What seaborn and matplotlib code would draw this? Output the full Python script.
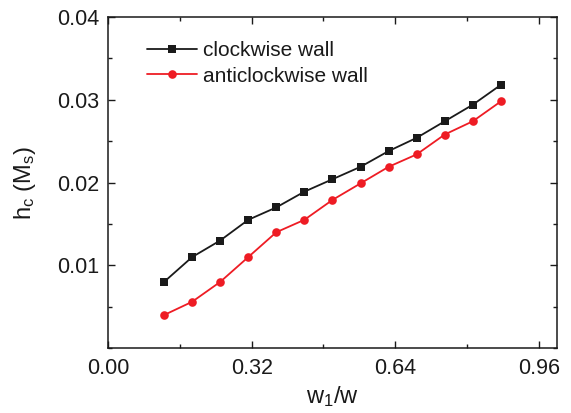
import matplotlib
matplotlib.use("Agg")
import matplotlib.pyplot as plt
import seaborn as sns
import pandas as pd
from matplotlib.ticker import MultipleLocator, FixedLocator

w_ratio = [0.125, 0.1875, 0.25, 0.3125, 0.375, 0.4375, 0.5, 0.5625, 0.625, 0.6875, 0.75, 0.8125, 0.875]
clockwise = [0.0080, 0.0110, 0.0130, 0.0155, 0.0170, 0.0189, 0.0204, 0.0219, 0.0238, 0.0254, 0.0274, 0.0294, 0.0318]
anticlockwise = [0.0040, 0.0056, 0.0080, 0.0110, 0.0140, 0.0155, 0.0179, 0.0199, 0.0219, 0.0234, 0.0258, 0.0274, 0.0298]
series_names = ["clockwise wall", "anticlockwise wall"]
x_ticks = [0.00, 0.32, 0.64, 0.96]
y_ticks = [0.01, 0.02, 0.03, 0.04]

df = pd.concat([
    pd.DataFrame({"x": w_ratio, "y": clockwise, "s": series_names[0]}),
    pd.DataFrame({"x": w_ratio, "y": anticlockwise, "s": series_names[1]}),
])

sns.set_style("ticks")
plt.rcParams["font.family"] = ["Liberation Sans", "DejaVu Sans"]
plt.rcParams["mathtext.default"] = "regular"

fig = plt.figure(figsize=(5.71, 4.13), dpi=100)
ax = fig.add_axes([0.189, 0.157, 0.7865, 0.802])

palette = {series_names[0]: "#1a1a1a", series_names[1]: "#ee1c24"}
markers = {series_names[0]: "s", series_names[1]: "o"}
sns.lineplot(data=df, x="x", y="y", hue="s", style="s", palette=palette,
             markers=markers, dashes=False, markersize=6.2, markeredgewidth=0,
             linewidth=1.3, ax=ax)

ax.set_xlim(0, 1.0)
ax.set_ylim(0, 0.04)
ax.xaxis.set_major_locator(FixedLocator(x_ticks))
ax.xaxis.set_minor_locator(MultipleLocator(0.16))
ax.yaxis.set_major_locator(FixedLocator(y_ticks))
ax.yaxis.set_minor_locator(MultipleLocator(0.005))
ax.set_xticklabels([f"{v:.2f}" for v in x_ticks])
ax.set_yticklabels([f"{v:.2f}" for v in y_ticks])
ax.tick_params(which="both", direction="in", top=True, right=True, width=1.0,
               labelsize=15.5, colors="#1a1a1a")
ax.tick_params(axis="x", pad=7)
ax.tick_params(axis="y", pad=6)
ax.tick_params(which="major", length=5)
ax.tick_params(which="minor", length=3)
for sp in ax.spines.values():
    sp.set_linewidth(1.1)
    sp.set_color("#1a1a1a")

ax.set_xlabel("w$_1$/w", fontsize=17, color="#1a1a1a", labelpad=4)
ax.set_ylabel("h$_c$ (M$_s$)", fontsize=17, color="#1a1a1a", labelpad=14)

leg = ax.legend(loc="upper left", bbox_to_anchor=(0.068, 0.953), frameon=False,
                fontsize=15, handlelength=2.4, handletextpad=0.3, labelspacing=0.32,
                borderaxespad=0)
for t in leg.get_texts():
    t.set_color("#1a1a1a")

fig.savefig("out.png", dpi=100)
